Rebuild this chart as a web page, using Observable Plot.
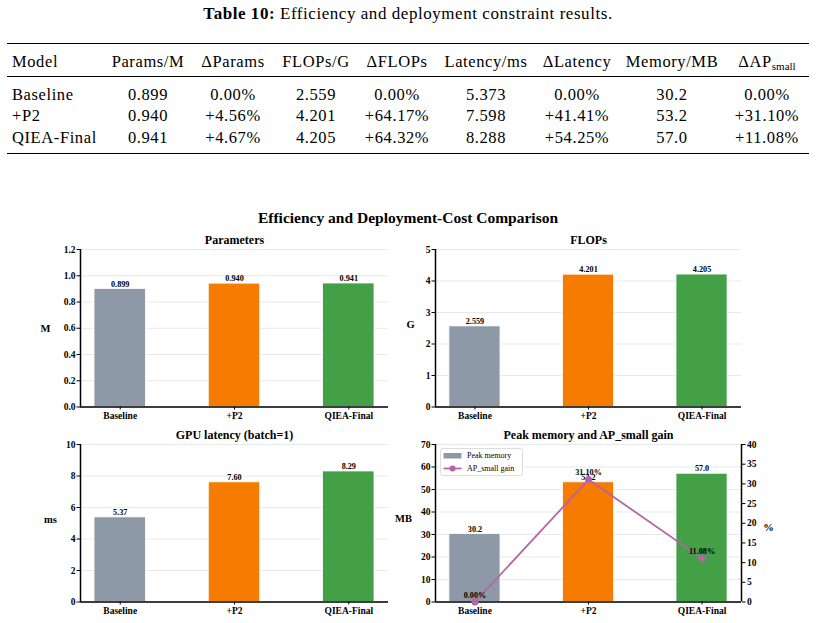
<!DOCTYPE html>
<html>
<head>
<meta charset="utf-8">
<script src="https://cdn.jsdelivr.net/npm/d3@7"></script>
<script src="https://cdn.jsdelivr.net/npm/@observablehq/plot@0.6"></script>
<style>
  html, body { margin: 0; padding: 0; background: #fff; }
  #page { position: relative; width: 816px; height: 623px; overflow: hidden; font-family: "Liberation Serif", "DejaVu Serif", serif; color: #000; }
  #caption { position: absolute; left: 0; top: 5px; width: 816px; text-align: center; font-size: 17px; line-height: 18px; letter-spacing: 0.55px; }
  #caption b { font-weight: bold; }
  #results { position: absolute; left: 7px; top: 43px; width: 802px; border-collapse: collapse; table-layout: fixed;
             font-size: 16.5px; letter-spacing: 0.6px; border-top: 1.6px solid #000; border-bottom: 1.6px solid #000; }
  #results td, #results th { padding: 0; font-weight: normal; text-align: center; white-space: nowrap; vertical-align: middle; }
  #results td:first-child, #results th:first-child { text-align: left; padding-left: 5px; }
  #results thead tr { height: 33px; }
  #results thead th { padding-top: 3px; }
  #results thead { border-bottom: 0.9px solid #000; }
  #results tbody tr.row { height: 21.5px; }
  #results tbody tr.row td { padding-top: 1px; }
  #results sub { font-size: 11px; vertical-align: -3px; letter-spacing: 0; }
  #figtitle { position: absolute; left: 0; top: 209px; width: 816px; text-align: center; font-weight: bold; font-size: 15.5px; line-height: 18px; }
  .panel { position: absolute; }
  .legend { position: absolute; }
</style>
</head>
<body>
<div id="page">
  <div id="caption"><b>Table 10:</b> Efficiency and deployment constraint results.</div>
  <table id="results"></table>
  <div id="figtitle">Efficiency and Deployment-Cost Comparison</div>
</div>
<script>
// ---- data ----
const models = ["Baseline", "+P2", "QIEA-Final"];
const paramsM = [0.899, 0.940, 0.941];
const deltaParams = [0.00, 4.56, 4.67];
const flopsG = [2.559, 4.201, 4.205];
const deltaFlops = [0.00, 64.17, 64.32];
const latencyMs = [5.373, 7.598, 8.288];
const deltaLatency = [0.00, 41.41, 54.25];
const memoryMB = [30.2, 53.2, 57.0];
const apSmallGain = [0.00, 31.10, 11.08];

const tableHeaders = ["Model", "Params/M", "ΔParams", "FLOPs/G", "ΔFLOPs", "Latency/ms", "ΔLatency", "Memory/MB", "ΔAP<sub>small</sub>"];

const barColors = ["#8d99a6", "#f57c00", "#43a047"];
const gainColor = "#b565a7";
const gridColor = "#dfe3e8";

// ---- table ----
const pct = v => (v === 0 ? "0.00%" : "+" + v.toFixed(2) + "%");
const colWidths = [98, 86, 84, 82, 80, 98, 84, 106, 84];
const table = document.getElementById("results");
let html = "<colgroup>" + colWidths.map(w => `<col style="width:${w}px">`).join("") + "</colgroup>";
html += "<thead><tr>" + tableHeaders.map(h => `<th>${h}</th>`).join("") + "</tr></thead><tbody>";
html += '<tr style="height:7px"><td colspan="9"></td></tr>';
models.forEach((m, i) => {
  const cells = [m, paramsM[i].toFixed(3), pct(deltaParams[i]), flopsG[i].toFixed(3), pct(deltaFlops[i]),
                 latencyMs[i].toFixed(3), pct(deltaLatency[i]), memoryMB[i].toFixed(1), pct(apSmallGain[i])];
  html += '<tr class="row">' + cells.map(c => `<td>${c}</td>`).join("") + "</tr>";
});
html += '<tr style="height:5px"><td colspan="9"></td></tr></tbody>';
table.innerHTML = html;

// ---- charts ----
const page = document.getElementById("page");
const xDomain = [-0.3475, 2.3475];
const halfBar = 0.225;
const font = '"Liberation Serif", "DejaVu Serif", serif';

function place(node, left, top, cls) {
  node.classList.add(cls);
  node.style.left = left + "px";
  node.style.top = top + "px";
  page.appendChild(node);
}

function commonMarks(cfg, data) {
  return [
    Plot.gridY(cfg.ticks, {stroke: gridColor, strokeOpacity: 1, strokeWidth: 0.8}),
    Plot.rect(data, {x1: d => d.i - halfBar, x2: d => d.i + halfBar, y1: 0, y2: "value",
                     fill: "color", stroke: "#ffffff", strokeWidth: 0.8}),
    Plot.text(data, {x: "i", y: "value", text: d => cfg.fmt(d.value), dy: -2.5, lineAnchor: "bottom",
                     fontSize: 8.2, fontWeight: "bold"}),
    Plot.axisX([0, 1, 2], {tickFormat: i => models[i], tickSize: 3, tickPadding: 2.5, fontSize: 9.5,
                           fontWeight: "bold", label: null}),
    Plot.axisY(cfg.ticks, {tickSize: 3.5, tickPadding: 1.5, tickFormat: cfg.tickFmt, fontSize: 9.5,
                           fontWeight: "bold", label: null}),
    Plot.ruleX([xDomain[0]], {stroke: "#000", strokeWidth: 1.5}),
    Plot.ruleY([0], {stroke: "#000", strokeWidth: 1.5}),
    Plot.text([cfg.title], {frameAnchor: "top", dy: -9, fontSize: 12, fontWeight: "bold", lineAnchor: "middle"}),
    Plot.text([cfg.ylabel], {frameAnchor: "left", dx: cfg.ylabelDx, dy: cfg.ylabelDy, fontSize: 10.5, fontWeight: "bold",
                             textAnchor: "middle", lineAnchor: "middle"})
  ];
}

function barPanel(cfg) {
  const data = models.map((m, i) => ({i, model: m, value: cfg.values[i], color: barColors[i]}));
  const extra = cfg.extraMarks ? cfg.extraMarks() : [];
  const chart = Plot.plot({
    width: cfg.width, height: cfg.height,
    marginLeft: cfg.ml, marginRight: cfg.mr, marginTop: cfg.mt, marginBottom: cfg.mb,
    style: {fontFamily: font, fontWeight: "bold", fontSize: "9.5px", background: "transparent", overflow: "visible"},
    x: {domain: xDomain},
    y: {domain: cfg.yDomain},
    color: {type: "identity"},
    marks: [...commonMarks(cfg, data), ...extra]
  });
  place(chart, cfg.left, cfg.top, "panel");
}

barPanel({
  title: "Parameters", ylabel: "M", ylabelDx: -35, ylabelDy: 0, values: paramsM,
  fmt: v => v.toFixed(3), yDomain: [0, 1.2], ticks: d3.range(0, 7).map(k => k * 0.2),
  tickFmt: v => v.toFixed(1),
  left: 20, top: 228, width: 380, height: 200, ml: 60, mr: 12, mt: 21, mb: 21.5
});

barPanel({
  title: "FLOPs", ylabel: "G", ylabelDx: -25, ylabelDy: -4, values: flopsG,
  fmt: v => v.toFixed(3), yDomain: [0, 5], ticks: d3.range(0, 6),
  tickFmt: v => String(v),
  left: 400, top: 228, width: 380, height: 200, ml: 35, mr: 39, mt: 21, mb: 21.5
});

barPanel({
  title: "GPU latency (batch=1)", ylabel: "ms", ylabelDx: -30, ylabelDy: -4, values: latencyMs,
  fmt: v => v.toFixed(2), yDomain: [0, 10], ticks: d3.range(0, 11, 2),
  tickFmt: v => String(v),
  left: 20, top: 423, width: 380, height: 200, ml: 60, mr: 12, mt: 21, mb: 21.5
});

// memory bars (left axis, MB) with AP_small gain on a secondary percent axis
const gainToY = d3.scaleLinear().domain([0, 40]).range([0, 70]);
const gainData = models.map((m, i) => ({i, model: m, gain: apSmallGain[i]}));
barPanel({
  title: "Peak memory and AP_small gain", ylabel: "MB", ylabelDx: -32, ylabelDy: -4.5, values: memoryMB,
  fmt: v => v.toFixed(1), yDomain: [0, 70], ticks: d3.range(0, 71, 10),
  tickFmt: v => String(v),
  left: 400, top: 423, width: 416, height: 200, ml: 35, mr: 75, mt: 21, mb: 21.5,
  extraMarks: () => [
    Plot.line(gainData, {x: "i", y: d => gainToY(d.gain), stroke: gainColor, strokeWidth: 1.8}),
    Plot.dot(gainData, {x: "i", y: d => gainToY(d.gain), r: 3.5, fill: gainColor, stroke: "none"}),
    Plot.text(gainData, {x: "i", y: d => gainToY(d.gain), text: d => d.gain.toFixed(2) + "%", dy: -4.5,
                         lineAnchor: "bottom", fontSize: 8.2, fontWeight: "bold"}),
    Plot.axisY(d3.range(0, 41, 5).map(v => gainToY(v)), {anchor: "right", tickSize: 3.5, tickPadding: 2,
               tickFormat: v => String(Math.round(gainToY.invert(v))), fontSize: 9.5, fontWeight: "bold", label: null}),
    Plot.ruleX([xDomain[1]], {stroke: "#000", strokeWidth: 1.5}),
    Plot.text(["%"], {frameAnchor: "right", dx: 27, dy: 4, fontSize: 10.5, fontWeight: "bold", textAnchor: "middle"})
  ]
});

// legend for the memory/gain panel
const legend = d3.create("svg").attr("width", 84).attr("height", 29)
  .style("font-family", font).style("font-size", "8px");
legend.append("rect").attr("x", 0.5).attr("y", 0.5).attr("width", 82).attr("height", 27).attr("rx", 2)
  .attr("fill", "rgba(255,255,255,0.85)").attr("stroke", "#d4d4d4").attr("stroke-width", 0.8);
legend.append("rect").attr("x", 3.5).attr("y", 5).attr("width", 18).attr("height", 5.5).attr("fill", barColors[0]);
legend.append("text").attr("x", 27).attr("y", 8).attr("dominant-baseline", "middle").text("Peak memory");
legend.append("line").attr("x1", 3.5).attr("x2", 21.5).attr("y1", 20.5).attr("y2", 20.5)
  .attr("stroke", gainColor).attr("stroke-width", 1.8);
legend.append("circle").attr("cx", 12.5).attr("cy", 20.5).attr("r", 3).attr("fill", gainColor);
legend.append("text").attr("x", 27).attr("y", 21).attr("dominant-baseline", "middle").text("AP_small gain");
place(legend.node(), 440, 448, "legend");
</script>
</body>
</html>
